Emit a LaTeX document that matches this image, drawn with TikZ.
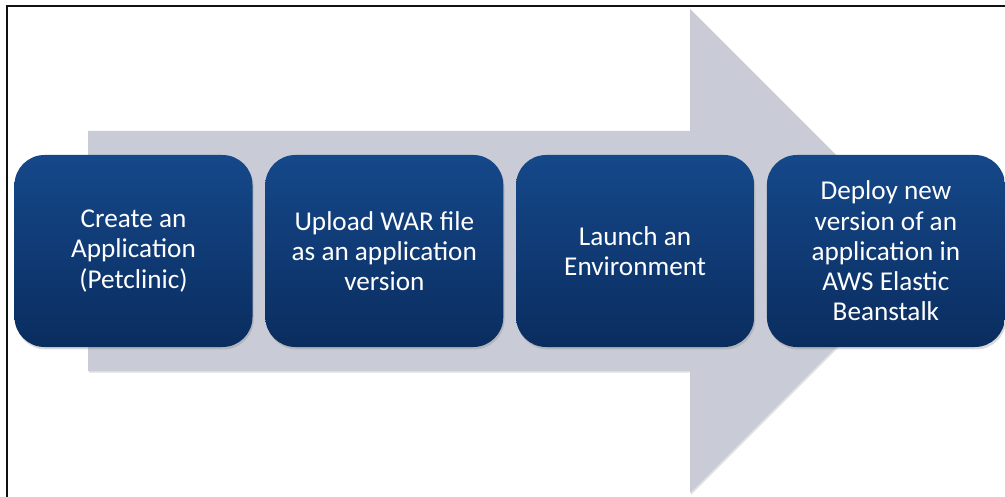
\documentclass[tikz,border=0pt]{standalone}
\usepackage{fontspec}
\setmainfont{Carlito}
\usetikzlibrary{positioning, shadows}
\definecolor{arrowgray}{HTML}{C9CCD6}
\definecolor{boxtop}{HTML}{15488A}
\definecolor{boxbot}{HTML}{0A2D5F}
\definecolor{framek}{HTML}{111111}

\tikzset{
  stepbox/.style={rounded corners=15pt, top color=boxtop, bottom color=boxbot,
    minimum width=119pt, minimum height=96pt, align=center, text=white,
    font=\fontsize{13.6}{15.1}\selectfont, inner sep=2pt,
    drop shadow={shadow xshift=0.6pt, shadow yshift=-1.2pt, opacity=0.3}},
}

\begin{document}
\begin{tikzpicture}[x=0.5pt, y=-0.5pt, node distance=6pt]

\useasboundingbox (0,0) rectangle (1005,497);

% Frame (only left and top edges show)
\draw[framek, line width=1.1pt] (7,497) -- (7,6) -- (1005,6);

% Big process arrow
\fill[arrowgray, drop shadow={shadow xshift=0.6pt, shadow yshift=-0.8pt, opacity=0.25}]
  (88,131) -- (690,131) -- (690,9) -- (932,251) -- (690,493) -- (690,371) -- (88,371) -- cycle;

% Steps
\node[stepbox] (create) at (133.5,251) {Create an\\Application\\(Petclinic)};
\node[stepbox, right=of create] (upload) {Upload WAR file\\as an application\\version};
\node[stepbox, right=of upload] (launch) {Launch an\\Environment};
\node[stepbox, right=of launch] (deploy) {Deploy new\\version of an\\application in\\AWS Elastic\\Beanstalk};

\end{tikzpicture}
\end{document}
